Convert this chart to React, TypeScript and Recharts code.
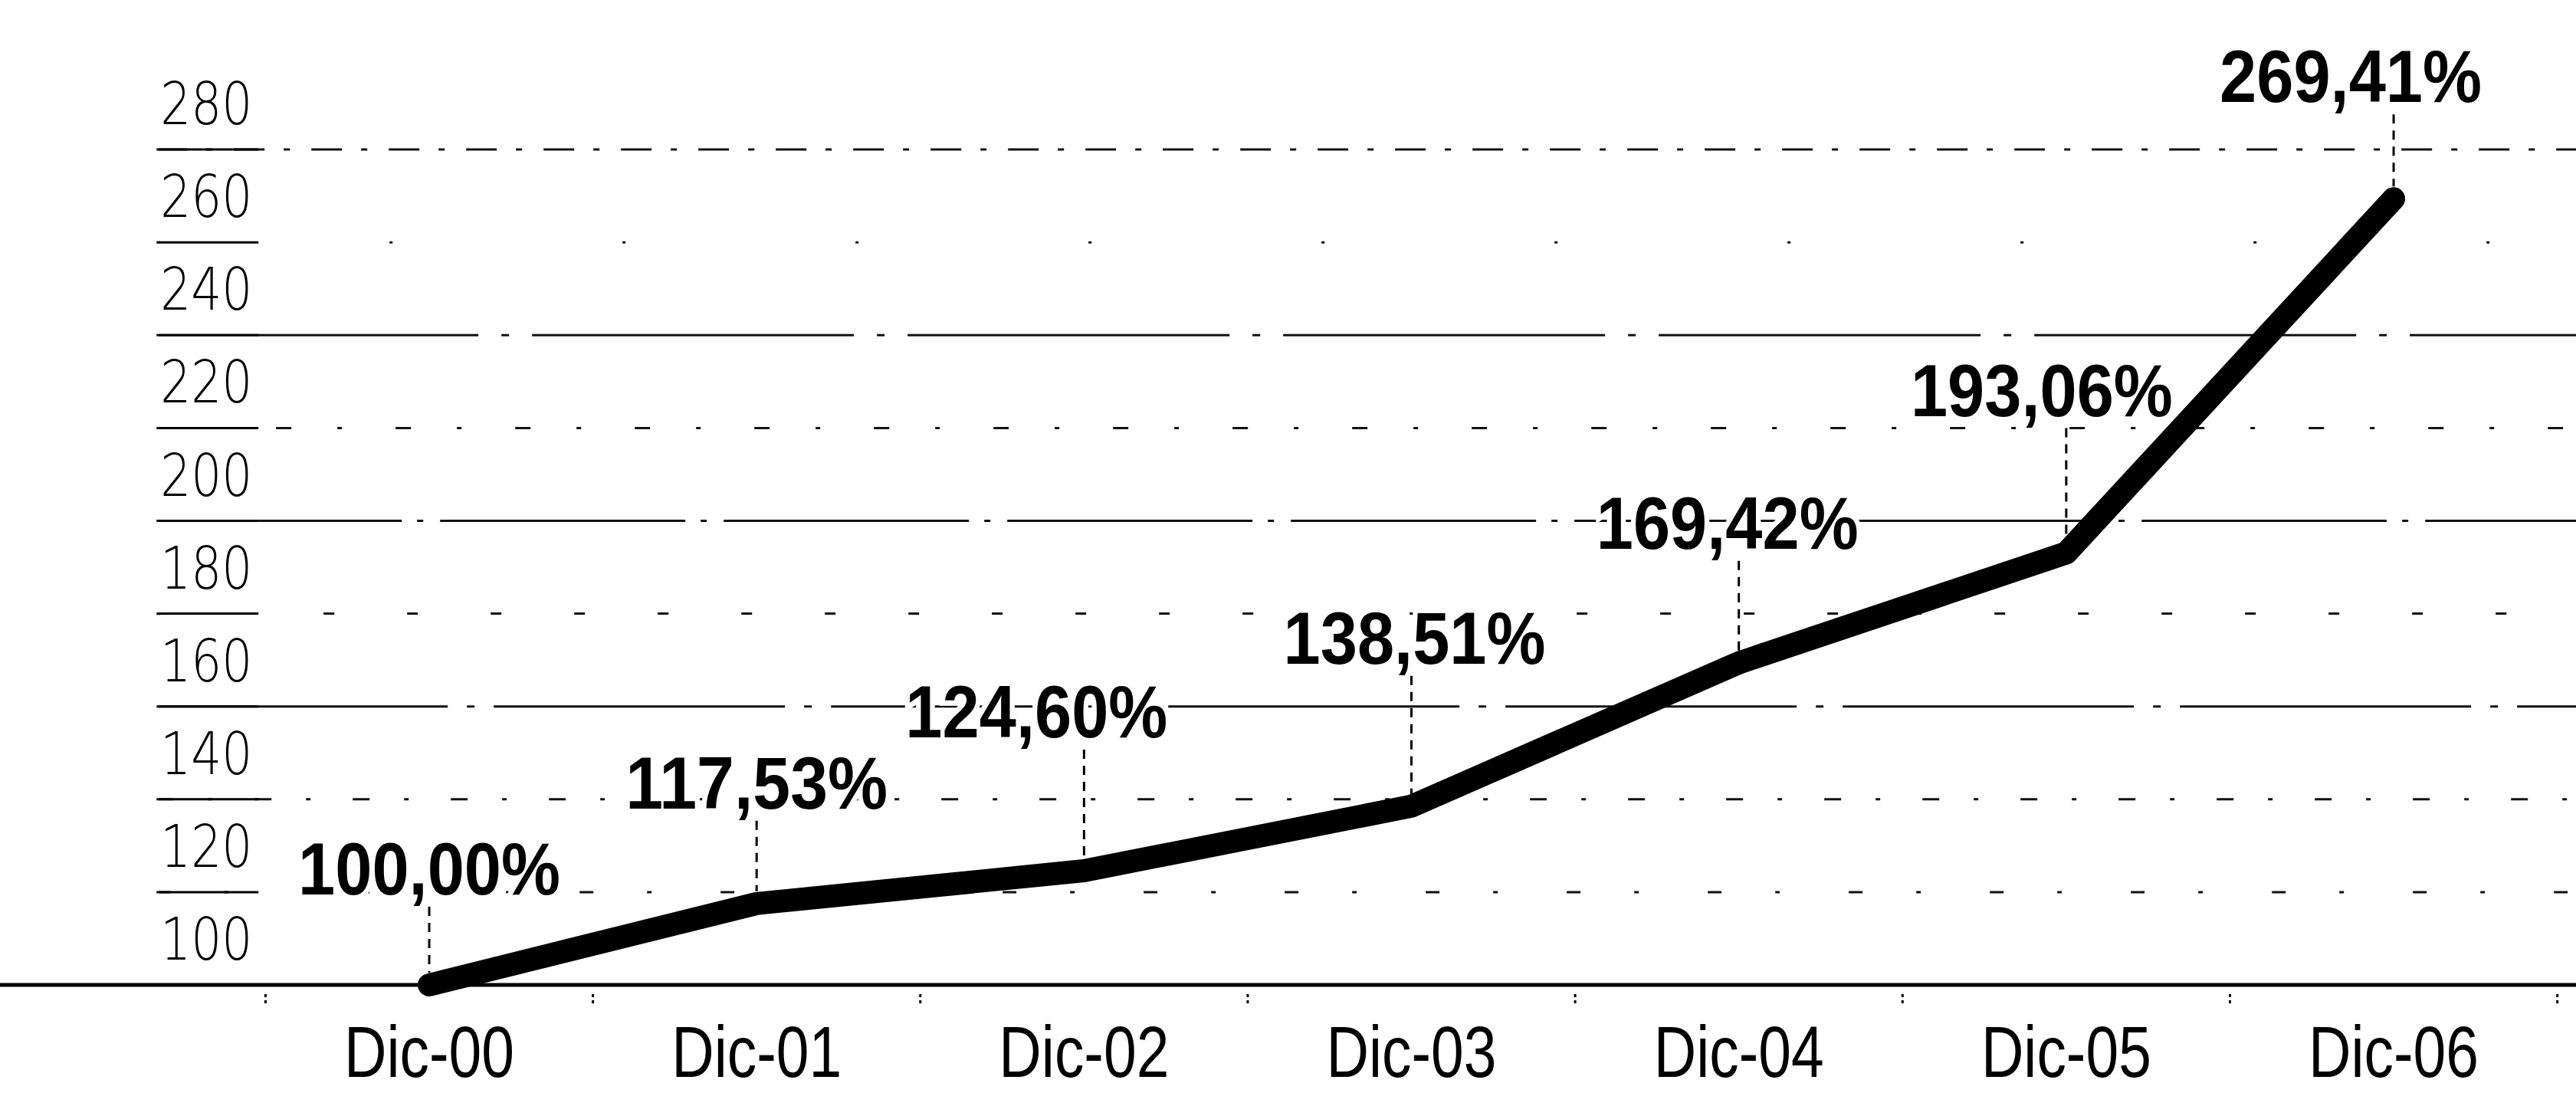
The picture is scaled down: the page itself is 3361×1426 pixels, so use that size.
import { LineChart, Line, XAxis, YAxis, ReferenceLine, LabelList } from "recharts";

const CATEGORIES = ["Dic-00", "Dic-01", "Dic-02", "Dic-03", "Dic-04", "Dic-05", "Dic-06"];
const VALUES = [100, 117.53, 124.6, 138.51, 169.42, 193.06, 269.41];
const VALUE_LABELS = ["100,00%", "117,53%", "124,60%", "138,51%", "169,42%", "193,06%", "269,41%"];
const Y_TICKS = [100, 120, 140, 160, 180, 200, 220, 240, 260, 280];
const X_TICKS = [-0.5, 0, 0.5, 1, 1.5, 2, 2.5, 3, 3.5, 4, 4.5, 5, 5.5, 6, 6.5];

// how far each value label sits above / beside its point (px)
const LABEL_LIFT = [118, 124, 174, 186, 149, 179, 126];
const LABEL_DX = [0, 0, -62, 4, -15, -32, -56];

// scanned gridlines are broken up unevenly
const GRID_DASH: Record<number, string> = {
  100: "0 10000",
  120: "18 70 6 90",
  140: "22 45 6 55",
  160: "380 25 10 25",
  180: "14 95",
  200: "320 20 8 22",
  220: "20 60 6 70",
  240: "420 30 10 30",
  260: "4 300",
  280: "40 25 8 28",
};

const X_MIN = -1.311;
const X_MAX = 6.557;
const GRID_START = -0.833;

const data = CATEGORIES.map((c, i) => ({ idx: i, label: c, value: VALUES[i] }));

function XTick(props: any) {
  const { x, y, payload } = props;
  const v = payload.value;
  if (Number.isInteger(v)) {
    return (
      <text
        x={x}
        y={y + 114}
        textAnchor="middle"
        fontFamily="'Liberation Sans', Arial, sans-serif"
        fontSize={94}
        textLength={222}
        lengthAdjust="spacingAndGlyphs"
        fill="#000"
      >
        {CATEGORIES[v]}
      </text>
    );
  }
  return <line x1={x} x2={x} y1={y + 6} y2={y + 20} stroke="#000" strokeWidth={3} strokeDasharray="4 4" />;
}

function GridLabel(props: any) {
  const { viewBox, value } = props;
  const x = viewBox.x;
  const y = viewBox.y;
  return (
    <g>
      <line x1={x + 3} x2={x + 133} y1={y} y2={y} stroke="#000" strokeWidth={3} />
      <text
        x={x + 5}
        y={y - 33}
        textAnchor="start"
        fontFamily="'DejaVu Sans', sans-serif"
        fontWeight={200}
        fontSize={76}
        textLength={120}
        lengthAdjust="spacingAndGlyphs"
        fill="#000"
      >
        {value}
      </text>
    </g>
  );
}

function ValueLabel(props: any) {
  const { x, y, index } = props;
  const lift = LABEL_LIFT[index];
  return (
    <g>
      <line
        x1={x}
        x2={x}
        y1={y - lift + 16}
        y2={y - 16}
        stroke="#000"
        strokeWidth={3}
        strokeDasharray="12 9"
      />
      <text
        x={x + LABEL_DX[index]}
        y={y - lift}
        textAnchor="middle"
        fontFamily="'Liberation Sans', Arial, sans-serif"
        fontWeight="bold"
        fontSize={96}
        textLength={342}
        lengthAdjust="spacingAndGlyphs"
        fill="#000"
        stroke="#fff"
        strokeWidth={14}
        paintOrder="stroke"
      >
        {VALUE_LABELS[index]}
      </text>
    </g>
  );
}

export default function App() {
  return (
    <div style={{ width: 3361, height: 1426, background: "#fff" }}>
      <style>{`body{margin:0;background:#fff}`}</style>
      <LineChart
        width={3361}
        height={1426}
        data={data}
        margin={{ top: 74, right: 0, left: 0, bottom: 0 }}
      >
        <XAxis
          dataKey="idx"
          type="number"
          domain={[X_MIN, X_MAX]}
          ticks={X_TICKS}
          interval={0}
          tickLine={false}
          tickMargin={0}
          axisLine={{ stroke: "#000", strokeWidth: 5 }}
          tick={<XTick />}
          height={141}
        />
        <YAxis type="number" domain={[100, 300]} ticks={Y_TICKS} hide />
        {Y_TICKS.map((t) => (
          <ReferenceLine
            key={t}
            segment={[
              { x: GRID_START, y: t },
              { x: X_MAX, y: t },
            ]}
            stroke="#111"
            strokeWidth={3}
            strokeDasharray={GRID_DASH[t]}
            label={<GridLabel value={t} />}
          />
        ))}
        <Line
          type="linear"
          dataKey="value"
          stroke="#000"
          strokeWidth={30}
          strokeLinecap="round"
          strokeLinejoin="round"
          dot={false}
          activeDot={false}
          isAnimationActive={false}
        >
          <LabelList dataKey="value" content={<ValueLabel />} />
        </Line>
      </LineChart>
    </div>
  );
}
